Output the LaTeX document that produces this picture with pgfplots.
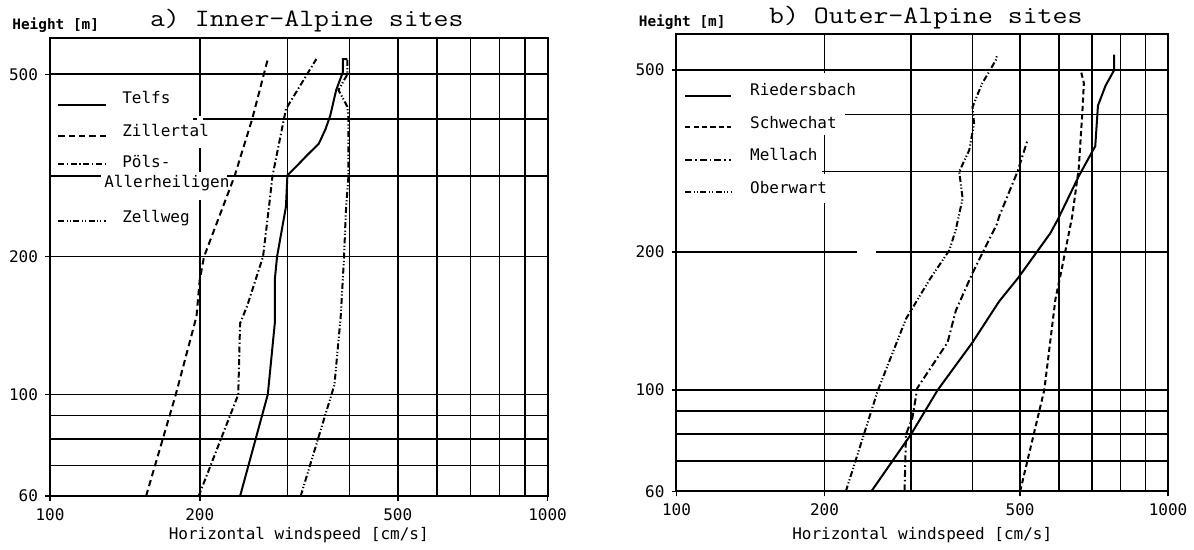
\documentclass[border=0pt]{standalone}
\usepackage{fontspec}
\usepackage{graphicx}
\usepackage{pgfplots}
\pgfplotsset{compat=1.18}
\newfontfamily\plotfont{DejaVu Sans Mono}
\newcommand{\pf}{\plotfont\fontsize{8}{9}\selectfont}
\tikzset{
 dZill/.style={dash pattern=on 3.2pt off 2pt},
 dPols/.style={dash pattern=on 3pt off 1.3pt on 0.7pt off 1.3pt},
 dZell/.style={dash pattern=on 3pt off 1.2pt on 0.6pt off 1pt on 0.6pt off 1.2pt},
 dSchw/.style={dash pattern=on 2.6pt off 1.6pt},
 dMell/.style={dash pattern=on 3.5pt off 1.5pt on 0.8pt off 1.5pt},
}
\begin{document}
\begin{tikzpicture}
\begin{scope}[x=0.5pt,y=-0.5pt]
\path[use as bounding box] (0,0) rectangle (1194,550);
\end{scope}
% ---------------- panel a ----------------
\begin{axis}[at={(25pt,-248.2pt)}, anchor=south west, width=249pt, height=229.2pt,
    scale only axis, xmode=log, ymode=log,
    xmin=100, xmax=1000, ymin=60, ymax=600,
    xtick={100,200,500,1000}, xticklabels={100,200,500,1000},
    ytick={60,100,200,500}, yticklabels={60,100,200,500},
    minor xtick={300,400,600,700,800,900},
    minor ytick={70,80,90,300,400},
    grid=both,
    major grid style={black, line width=0.85pt},
    minor grid style={black, line width=0.85pt},
    axis line style={line width=1pt},
    tick style={black, line width=0.8pt},
    tick align=outside, xtick pos=left, ytick pos=left,
    major tick length=2.5pt, minor tick length=0pt,
    ticklabel style={font=\pf},
    xlabel={Horizontal windspeed [cm/s]},
    xlabel style={font=\pf, at={(axis description cs:0.5,0)}, anchor=center, yshift=-19.3pt},
    every axis plot/.append style={line width=1pt, black}]
% Telfs
\addplot[solid] coordinates {(241,60) (274,100) (283,143) (283,178) (286,200) (298,257) (300,301) (313,315) (326,330) (347,353) (358,380) (366,407) (376,462) (388,506) (388,540) (396,540)};
% Zillertal
\addplot[dZill] coordinates {(156,60) (179,100) (197,148) (200,178) (204,200) (235,300) (255,400) (269,500) (274,540)};
% Poels-Allerheiligen
\addplot[dPols] coordinates {(199,60) (239,100) (241,143) (249,156) (268,200) (276,261) (280,300) (298,420) (343,540)};
% Zellweg
\addplot[dZell] coordinates {(319,60) (373,105) (384,148) (390,200) (393,248) (398,300) (398,400) (396,425) (380,462) (396,500) (396,540)};
\end{axis}
% ---------------- panel b ----------------
\begin{axis}[at={(338.5pt,-245.85pt)}, anchor=south west, width=246pt, height=229pt,
    scale only axis, xmode=log, ymode=log,
    xmin=100, xmax=1000, ymin=60, ymax=600,
    xtick={100,200,500,1000}, xticklabels={100,200,500,1000},
    ytick={60,100,200,500}, yticklabels={60,100,200,500},
    minor xtick={300,400,600,700,800,900},
    minor ytick={70,80,90,300,400},
    grid=both,
    major grid style={black, line width=0.85pt},
    minor grid style={black, line width=0.85pt},
    axis line style={line width=1pt},
    tick style={black, line width=0.8pt},
    tick align=outside, xtick pos=left, ytick pos=left,
    major tick length=2.5pt, minor tick length=0pt,
    ticklabel style={font=\pf},
    xlabel={Horizontal windspeed [cm/s]},
    xlabel style={font=\pf, at={(axis description cs:0.5,0)}, anchor=center, yshift=-21.6pt},
    every axis plot/.append style={line width=1pt, black}]
% Riedersbach
\addplot[solid] coordinates {(249,60) (300,80) (340,100) (400,127) (453,156) (496,176) (576,220) (597,236) (658,293) (711,341) (720,418) (746,462) (777,500) (777,540)};
% Schwechat
\addplot[dSchw] coordinates {(500,60) (560,100) (590,158) (606,181) (638,239) (658,305) (669,402) (674,468) (664,500)};
% Mellach
\addplot[dMell] coordinates {(291,60) (293,80) (302,87) (309,101) (356,127) (370,149) (400,180) (449,231) (453,239) (494,300) (517,350)};
% Oberwart
\addplot[dZell] coordinates {(221,60) (257,100) (293,143) (327,174) (359,202) (370,224) (382,262) (376,300) (394,334) (403,382) (400,415) (418,466) (446,525) (449,540)};
\end{axis}
% ---------------- overlays (image pixel coordinates) ----------------
\begin{scope}[x=0.5pt,y=-0.5pt]
% gaps in the grid
\fill[white] (51,116.5) rectangle (193,121.8);
\fill[white] (101,173.3) rectangle (227,179.7);
\fill[white] (197,116) rectangle (203,148);
\fill[white] (197,172) rectangle (203,200);
\fill[white] (678,110.6) rectangle (846,116.2);
\fill[white] (678,169.2) rectangle (823,174.4);
\fill[white] (822,73) rectangle (828,135);
\fill[white] (822,174) rectangle (828,203);
\fill[white] (858,249.2) rectangle (877,255.2);
% titles
\node at (307,20.7) {\scalebox{1.16}[1]{\ttfamily\fontsize{12.5}{14}\selectfont a) Inner-Alpine sites}};
\node at (926.5,18) {\scalebox{1.16}[1]{\ttfamily\fontsize{12.5}{14}\selectfont b) Outer-Alpine sites}};
\node[anchor=west, inner sep=0pt] at (12,25.4) {\plotfont\bfseries\fontsize{7.2}{8}\selectfont Height [m]};
\node[anchor=west, inner sep=0pt] at (639,22) {\plotfont\bfseries\fontsize{7.2}{8}\selectfont Height [m]};
% legend a
\draw[line width=1pt] (58.3,104.5) -- (105.9,104.5);
\draw[line width=1pt, dZill] (58.3,136) -- (105.9,136);
\draw[line width=1pt, dPols] (58.3,163.7) -- (105.9,163.7);
\draw[line width=1pt, dZell] (58.3,220.7) -- (105.9,220.7);
\node[anchor=west, inner sep=0pt, font=\pf] at (122,97.8) {Telfs};
\node[anchor=west, inner sep=0pt, font=\pf] at (122,130.3) {Zillertal};
\node[anchor=west, inner sep=0pt, font=\pf] at (122,162) {Pöls-};
\node[anchor=west, inner sep=0pt, font=\pf] at (104,183.2) {Allerheiligen};
\node[anchor=west, inner sep=0pt, font=\pf] at (122,218.4) {Zellweg};
% legend b
\draw[line width=1pt] (685.7,95.8) -- (732,95.8);
\draw[line width=1pt, dSchw] (685.7,127) -- (732,127);
\draw[line width=1pt, dMell] (685.7,160.5) -- (732,160.5);
\draw[line width=1pt, dZell] (685.7,192) -- (732,192);
\node[anchor=west, inner sep=0pt, font=\pf] at (750.3,89.8) {Riedersbach};
\node[anchor=west, inner sep=0pt, font=\pf] at (750.3,122.6) {Schwechat};
\node[anchor=west, inner sep=0pt, font=\pf] at (750.3,154.4) {Mellach};
\node[anchor=west, inner sep=0pt, font=\pf] at (750.3,187.9) {Oberwart};
\end{scope}
\end{tikzpicture}
\end{document}
